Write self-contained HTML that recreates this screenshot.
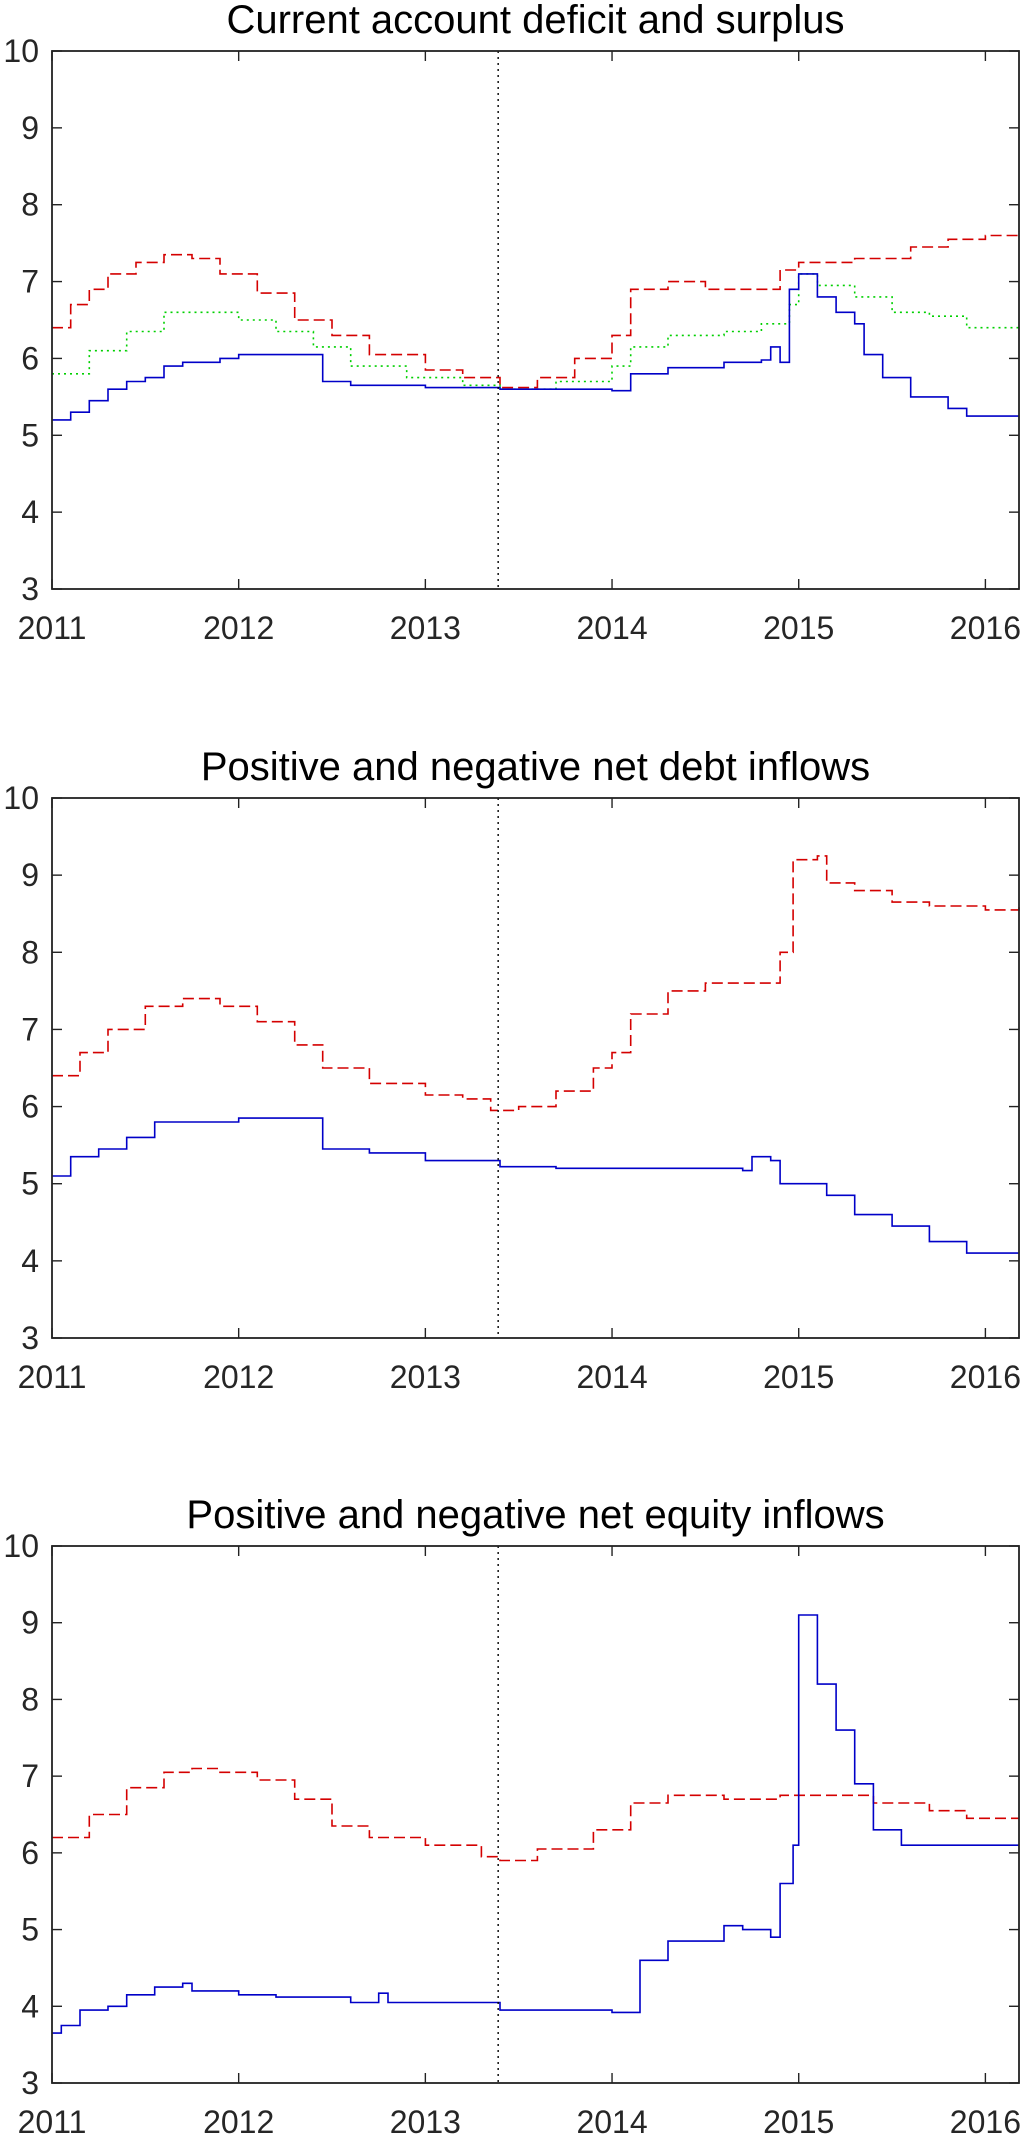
<!DOCTYPE html>
<html><head><meta charset="utf-8"><style>
html,body{margin:0;padding:0;background:#fff;}
svg{display:block;font-family:"Liberation Sans",Arial,sans-serif;}
</style></head><body>
<svg id="chart" width="1024" height="2142" viewBox="0 0 1024 2142" xmlns="http://www.w3.org/2000/svg"></svg>
<script>
const xTicks=[2011,2012,2013,2014,2015,2016];
const yTicks=[3,4,5,6,7,8,9,10];
const eventYear=2013.39;
const titles=["Current account deficit and surplus","Positive and negative net debt inflows","Positive and negative net equity inflows"];

const p1BlueX=[2011,2011.1,2011.2,2011.3,2011.4,2011.5,2011.6,2011.7,2011.9,2012.0,2012.45,2012.6,2013.0,2013.4,2014.0,2014.1,2014.3,2014.6,2014.8,2014.85,2014.9,2014.95,2015.0,2015.1,2015.2,2015.3,2015.35,2015.45,2015.6,2015.8,2015.9,2016.18];
const p1BlueY=[5.2,5.3,5.45,5.6,5.7,5.75,5.9,5.95,6.0,6.05,5.7,5.65,5.62,5.6,5.58,5.8,5.88,5.95,5.98,6.15,5.95,6.9,7.1,6.8,6.6,6.45,6.05,5.75,5.5,5.35,5.25,5.25];
const p1RedX=[2011,2011.1,2011.2,2011.3,2011.45,2011.6,2011.75,2011.9,2012.1,2012.3,2012.5,2012.7,2013.0,2013.2,2013.4,2013.6,2013.8,2014.0,2014.1,2014.3,2014.5,2014.7,2014.9,2015.0,2015.3,2015.6,2015.8,2016.0,2016.18];
const p1RedY=[6.4,6.7,6.9,7.1,7.25,7.35,7.3,7.1,6.85,6.5,6.3,6.05,5.85,5.75,5.62,5.75,6.0,6.3,6.9,7.0,6.9,6.9,7.15,7.25,7.3,7.45,7.55,7.6,7.65];
const p1GreenX=[2011,2011.2,2011.4,2011.6,2011.8,2012.0,2012.2,2012.4,2012.6,2012.9,2013.2,2013.4,2013.7,2014.0,2014.1,2014.3,2014.6,2014.8,2014.95,2015.0,2015.1,2015.3,2015.5,2015.7,2015.9,2016.18];
const p1GreenY=[5.8,6.1,6.35,6.6,6.6,6.5,6.35,6.15,5.9,5.75,5.65,5.6,5.7,5.9,6.15,6.3,6.35,6.45,6.7,7.1,6.95,6.8,6.6,6.55,6.4,6.4];

const p2RedX=[2011,2011.15,2011.3,2011.5,2011.7,2011.9,2012.1,2012.3,2012.45,2012.7,2013.0,2013.2,2013.35,2013.5,2013.7,2013.9,2014.0,2014.1,2014.3,2014.5,2014.8,2014.9,2014.97,2015.1,2015.15,2015.3,2015.5,2015.7,2016.0,2016.18];
const p2RedY=[6.4,6.7,7.0,7.3,7.4,7.3,7.1,6.8,6.5,6.3,6.15,6.1,5.95,6.0,6.2,6.5,6.7,7.2,7.5,7.6,7.6,8.0,9.2,9.25,8.9,8.8,8.65,8.6,8.55,8.6];
const p2BlueX=[2011,2011.1,2011.25,2011.4,2011.55,2012.0,2012.45,2012.7,2013.0,2013.4,2013.7,2014.7,2014.75,2014.85,2014.9,2015.15,2015.3,2015.5,2015.7,2015.9,2016.18];
const p2BlueY=[5.1,5.35,5.45,5.6,5.8,5.85,5.45,5.4,5.3,5.22,5.2,5.17,5.35,5.3,5.0,4.85,4.6,4.45,4.25,4.1,4.1];

const p3RedX=[2011,2011.2,2011.4,2011.6,2011.75,2011.9,2012.1,2012.3,2012.5,2012.7,2013.0,2013.3,2013.4,2013.6,2013.9,2014.1,2014.3,2014.6,2014.9,2015.1,2015.4,2015.7,2015.9,2016.18];
const p3RedY=[6.2,6.5,6.85,7.05,7.1,7.05,6.95,6.7,6.35,6.2,6.1,5.95,5.9,6.05,6.3,6.65,6.75,6.7,6.75,6.75,6.65,6.55,6.45,6.45];
const p3BlueX=[2011,2011.05,2011.15,2011.3,2011.4,2011.55,2011.7,2011.75,2012.0,2012.2,2012.6,2012.75,2012.8,2013.4,2014.0,2014.15,2014.3,2014.6,2014.7,2014.85,2014.9,2014.97,2015.0,2015.1,2015.2,2015.3,2015.4,2015.55,2016.18];
const p3BlueY=[3.65,3.75,3.95,4.0,4.15,4.25,4.3,4.2,4.15,4.12,4.05,4.17,4.05,3.95,3.92,4.6,4.85,5.05,5.0,4.9,5.6,6.1,9.1,8.2,7.6,6.9,6.3,6.1,6.1];

const panels=[
 {top:51,bottom:589,series:[{x:p1RedX,y:p1RedY,c:"#d40000",d:"11,5",n:"red-dashed-series"},{x:p1GreenX,y:p1GreenY,c:"#00d000",d:"2,4",n:"green-dotted-series"},{x:p1BlueX,y:p1BlueY,c:"#0000c8",d:"",n:"blue-solid-series"}]},
 {top:798,bottom:1338,series:[{x:p2RedX,y:p2RedY,c:"#d40000",d:"11,5",n:"red-dashed-series"},{x:p2BlueX,y:p2BlueY,c:"#0000c8",d:"",n:"blue-solid-series"}]},
 {top:1546,bottom:2083,series:[{x:p3RedX,y:p3RedY,c:"#d40000",d:"11,5",n:"red-dashed-series"},{x:p3BlueX,y:p3BlueY,c:"#0000c8",d:"",n:"blue-solid-series"}]}
];
const L=52,R=1019,X0=2011,X1=2016.18;
const NS="http://www.w3.org/2000/svg";
const svg=document.getElementById('chart');
function mk(t,a,p){const e=document.createElementNS(NS,t);for(const k in a)e.setAttribute(k,a[k]);(p||svg).appendChild(e);return e;}
function sx(v){return L+(v-X0)/(X1-X0)*(R-L);}
panels.forEach((p,i)=>{
 const g=mk('g',{});
 
 
 const sy=v=>p.bottom-(v-3)/7*(p.bottom-p.top);
 const t=mk('text',{x:(L+R)/2,y:p.top-18,'font-size':40,'text-anchor':'middle',fill:'#000'},g);
 t.textContent=titles[i];
 
 
 p.series.forEach(s=>{
  let d='M'+sx(s.x[0]).toFixed(1)+','+sy(s.y[0]).toFixed(1);
  for(let k=1;k<s.x.length;k++){d+='H'+sx(s.x[k]).toFixed(1)+'V'+sy(s.y[k]).toFixed(1);}
  const pa=mk('path',{d:d,fill:'none',stroke:s.c,'stroke-width':1.6},g);
  if(s.d)pa.setAttribute('stroke-dasharray',s.d);
  
  
 });
 const ev=mk('line',{x1:sx(eventYear),x2:sx(eventYear),y1:p.top,y2:p.bottom,stroke:'#000','stroke-width':1.4,'stroke-dasharray':'2,4'},g);
 
 
 const box=mk('rect',{x:L,y:p.top,width:R-L,height:p.bottom-p.top,fill:'none',stroke:'#222','stroke-width':1.8},g);
 
 
 yTicks.forEach(v=>{
  const y=sy(v);
  mk('line',{x1:L,x2:L+10,y1:y,y2:y,stroke:'#222','stroke-width':1.4},g);
  mk('line',{x1:R,x2:R-10,y1:y,y2:y,stroke:'#222','stroke-width':1.4},g);
  const tl=mk('text',{x:39,y:y+11,'font-size':32,'text-anchor':'end',fill:'#262626'},g);
  tl.textContent=v;
  
  
 });
 xTicks.forEach(v=>{
  const x=sx(v);
  mk('line',{x1:x,x2:x,y1:p.bottom,y2:p.bottom-10,stroke:'#222','stroke-width':1.4},g);
  mk('line',{x1:x,x2:x,y1:p.top,y2:p.top+10,stroke:'#222','stroke-width':1.4},g);
  const tl=mk('text',{x:x,y:p.bottom+50,'font-size':32,'text-anchor':'middle',fill:'#262626'},g);
  tl.textContent=v;
  
  
 });
});
</script>
</body></html>
